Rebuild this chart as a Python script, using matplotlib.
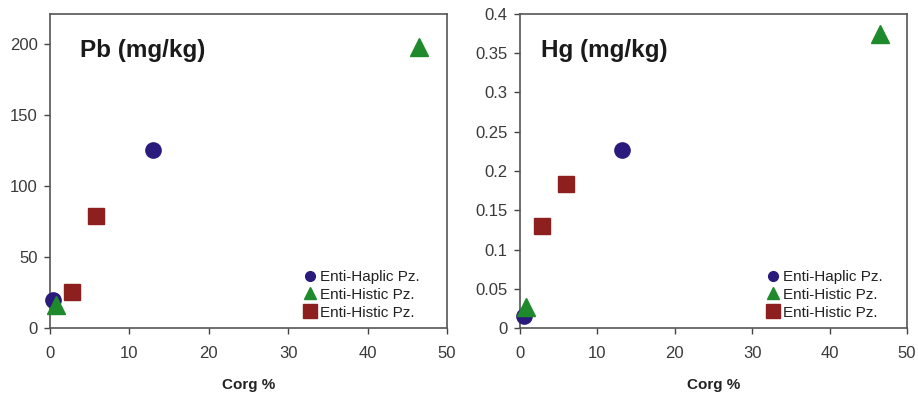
import matplotlib
matplotlib.use("Agg")
import matplotlib.pyplot as plt

plt.rcParams['font.family'] = ['Liberation Sans', 'DejaVu Sans']

labels = ['Enti-Haplic Pz.', 'Enti-Histic Pz.', 'Enti-Histic Pz.']
markers = ['o', '^', 's']
colors = ['#2a1a7c', '#1f8a2b', '#8e1f1f']
sizes = [11, 13, 11.5]
leg_sizes = [7, 8, 10]

# Pb panel
pb_x = [[0.4, 13.0], [0.8, 46.5], [2.8, 5.8]]
pb_y = [[20, 125], [16, 198], [25, 79]]

# Hg panel
hg_x = [[0.5, 13.2], [0.8, 46.5], [2.8, 5.9]]
hg_y = [[0.015, 0.227], [0.027, 0.375], [0.130, 0.183]]

fig = plt.figure(figsize=(9.18, 3.94), dpi=100)
ax1 = fig.add_axes([0.0545, 0.1675, 0.4325, 0.797])
ax2 = fig.add_axes([0.5665, 0.1675, 0.4215, 0.797])


def draw(ax, xs, ys, title, ylim, yticks, ylabels, tx, legx):
    for i in range(3):
        ax.plot(xs[i], ys[i], linestyle='none', marker=markers[i], color=colors[i],
                markersize=sizes[i], label=labels[i], clip_on=False, zorder=3)
    ax.set_xlim(0, 50)
    ax.set_ylim(*ylim)
    ax.set_xticks(range(0, 51, 10))
    ax.set_yticks(yticks)
    ax.set_yticklabels(ylabels)
    ax.tick_params(labelsize=12, labelcolor='#3a3a3a', color='#444444',
                   direction='out', length=4, width=1)
    ax.tick_params(axis='x', pad=9)
    ax.tick_params(axis='y', pad=5)
    for s in ax.spines.values():
        s.set_color('#555555')
        s.set_linewidth(1.2)
    ax.text(tx, 0.885, title, transform=ax.transAxes, fontsize=17.5,
            fontweight='bold', va='center', ha='left', color='#1a1a1a')
    ax.set_xlabel('Corg %', fontsize=11, fontweight='bold', labelpad=12, color='#222222')
    leg = ax.legend(loc='lower right', bbox_to_anchor=(legx, 0.0), frameon=False,
                    fontsize=11, handletextpad=0.1,
                    labelspacing=0.25, borderaxespad=0.15, handlelength=1.1,
                    borderpad=0.4)
    for h, ms in zip(leg.legend_handles, leg_sizes):
        h.set_markersize(ms)
    for t in leg.get_texts():
        t.set_color('#222222')


draw(ax1, pb_x, pb_y, 'Pb (mg/kg)', (0, 221), [0, 50, 100, 150, 200],
     ['0', '50', '100', '150', '200'], 0.075, 0.952)
draw(ax2, hg_x, hg_y, 'Hg (mg/kg)', (0, 0.4),
     [0, 0.05, 0.1, 0.15, 0.2, 0.25, 0.3, 0.35, 0.4],
     ['0', '0.05', '0.1', '0.15', '0.2', '0.25', '0.3', '0.35', '0.4'], 0.055, 0.959)

fig.savefig('out.png', dpi=100)
